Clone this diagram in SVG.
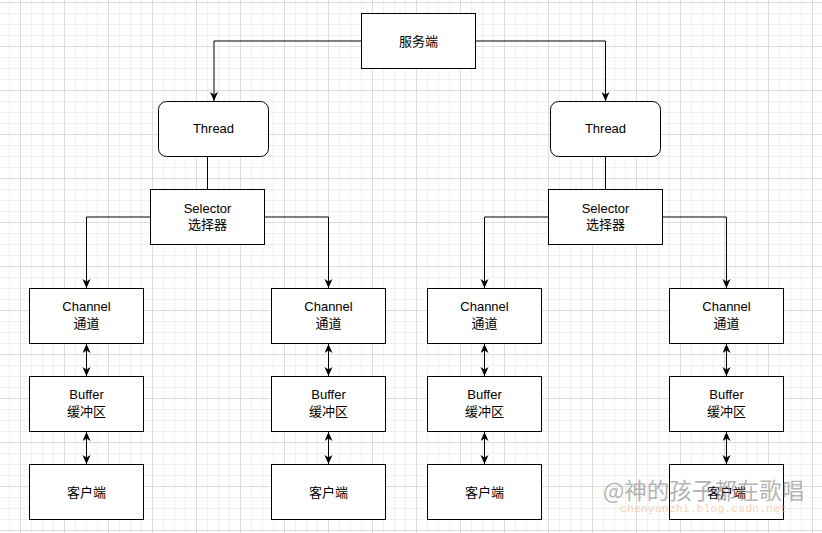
<svg xmlns="http://www.w3.org/2000/svg" width="822" height="533" viewBox="0 0 822 533">
<defs>
<pattern id="grid" patternUnits="userSpaceOnUse" x="20" y="2" width="44" height="44">
<rect width="44" height="44" fill="#ffffff"/>
<path d="M11.5 0V44M22.5 0V44M33.5 0V44M0 11.5H44M0 22.5H44M0 33.5H44" stroke="#f0f0f0" stroke-width="1" fill="none"/>
<path d="M0.5 0V44M0 0.5H44" stroke="#dcdcdc" stroke-width="1" fill="none"/>
</pattern>
<marker id="arr" markerUnits="userSpaceOnUse" markerWidth="12" markerHeight="12" refX="9" refY="4" orient="auto-start-reverse">
<path d="M0,0 L9,4 L0,8 L2.5,4 Z" fill="#000"/>
</marker>
</defs>
<style>
.box{fill:#fff;stroke:#000;stroke-width:1}
.t{font-family:"Liberation Sans",Arial,"Noto Sans CJK SC",sans-serif;font-size:13px;fill:#000;text-anchor:middle}
.c{font-family:"Noto Sans CJK SC","Liberation Sans",sans-serif;font-size:13px;fill:#000;text-anchor:middle}
.ln{fill:none;stroke:#000;stroke-width:1}
</style>
<rect width="822" height="533" fill="url(#grid)"/>
<g id="connectors">
<path class="ln" d="M361.5 41H214V101" marker-end="url(#arr)"/>
<path class="ln" d="M475.5 41H605.5V101" marker-end="url(#arr)"/>
<path class="ln" d="M207.5 156.5V189.5"/>
<path class="ln" d="M605.5 156.5V189.5"/>
<path class="ln" d="M150.5 217H86.5V288" marker-end="url(#arr)"/>
<path class="ln" d="M264.5 217H328.5V288" marker-end="url(#arr)"/>
<path class="ln" d="M548.5 217H484.5V288" marker-end="url(#arr)"/>
<path class="ln" d="M662.5 217H726.5V288" marker-end="url(#arr)"/>
<path class="ln" d="M86.5 344V376" marker-start="url(#arr)" marker-end="url(#arr)"/>
<path class="ln" d="M86.5 432V464" marker-start="url(#arr)" marker-end="url(#arr)"/>
<path class="ln" d="M328.5 344V376" marker-start="url(#arr)" marker-end="url(#arr)"/>
<path class="ln" d="M328.5 432V464" marker-start="url(#arr)" marker-end="url(#arr)"/>
<path class="ln" d="M484.5 344V376" marker-start="url(#arr)" marker-end="url(#arr)"/>
<path class="ln" d="M484.5 432V464" marker-start="url(#arr)" marker-end="url(#arr)"/>
<path class="ln" d="M726.5 344V376" marker-start="url(#arr)" marker-end="url(#arr)"/>
<path class="ln" d="M726.5 432V464" marker-start="url(#arr)" marker-end="url(#arr)"/>
</g>
<g id="server"><rect class="box" x="361.5" y="13.5" width="114" height="55"/><text class="c" x="418.5" y="45.8">服务端</text></g>
<g id="thread1"><rect class="box" x="158.5" y="101.5" width="110" height="55" rx="8"/><text class="t" x="213.5" y="133.2">Thread</text></g>
<g id="thread2"><rect class="box" x="550.5" y="101.5" width="110" height="55" rx="8"/><text class="t" x="605.5" y="133.2">Thread</text></g>
<g id="selector1"><rect class="box" x="150.5" y="189.5" width="114" height="55"/><text class="t" x="207.5" y="212.6">Selector</text><text class="c" x="207.5" y="229.2">选择器</text></g>
<g id="selector2"><rect class="box" x="548.5" y="189.5" width="114" height="55"/><text class="t" x="605.5" y="212.6">Selector</text><text class="c" x="605.5" y="229.2">选择器</text></g>
<g id="channel1"><rect class="box" x="29.5" y="288.5" width="114" height="55"/><text class="t" x="86.5" y="311.4">Channel</text><text class="c" x="86.5" y="328.2">通道</text></g>
<g id="channel2"><rect class="box" x="271.5" y="288.5" width="114" height="55"/><text class="t" x="328.5" y="311.4">Channel</text><text class="c" x="328.5" y="328.2">通道</text></g>
<g id="channel3"><rect class="box" x="427.5" y="288.5" width="114" height="55"/><text class="t" x="484.5" y="311.4">Channel</text><text class="c" x="484.5" y="328.2">通道</text></g>
<g id="channel4"><rect class="box" x="669.5" y="288.5" width="114" height="55"/><text class="t" x="726.5" y="311.4">Channel</text><text class="c" x="726.5" y="328.2">通道</text></g>
<g id="buffer1"><rect class="box" x="29.5" y="376.5" width="114" height="55"/><text class="t" x="86.5" y="399.4">Buffer</text><text class="c" x="86.5" y="416.2">缓冲区</text></g>
<g id="buffer2"><rect class="box" x="271.5" y="376.5" width="114" height="55"/><text class="t" x="328.5" y="399.4">Buffer</text><text class="c" x="328.5" y="416.2">缓冲区</text></g>
<g id="buffer3"><rect class="box" x="427.5" y="376.5" width="114" height="55"/><text class="t" x="484.5" y="399.4">Buffer</text><text class="c" x="484.5" y="416.2">缓冲区</text></g>
<g id="buffer4"><rect class="box" x="669.5" y="376.5" width="114" height="55"/><text class="t" x="726.5" y="399.4">Buffer</text><text class="c" x="726.5" y="416.2">缓冲区</text></g>
<g id="client1"><rect class="box" x="29.5" y="464.5" width="114" height="55"/><text class="c" x="86.5" y="496.8">客户端</text></g>
<g id="client2"><rect class="box" x="271.5" y="464.5" width="114" height="55"/><text class="c" x="328.5" y="496.8">客户端</text></g>
<g id="client3"><rect class="box" x="427.5" y="464.5" width="114" height="55"/><text class="c" x="484.5" y="496.8">客户端</text></g>
<g id="client4"><rect class="box" x="669.5" y="464.5" width="114" height="55"/><text class="c" x="726.5" y="496.8">客户端</text></g>
<g id="watermark">
<text x="603" y="499" font-family="'Noto Sans CJK SC','Liberation Sans',sans-serif" font-size="22.5" fill="#808080" fill-opacity="0.6">@神的孩子都在歌唱</text>
<text x="620" y="512" font-family="'Liberation Mono','DejaVu Sans Mono',monospace" font-size="11.6" fill="#f2b27a" fill-opacity="0.6">chenyunzhi.blog.csdn.net</text>
</g>
</svg>
